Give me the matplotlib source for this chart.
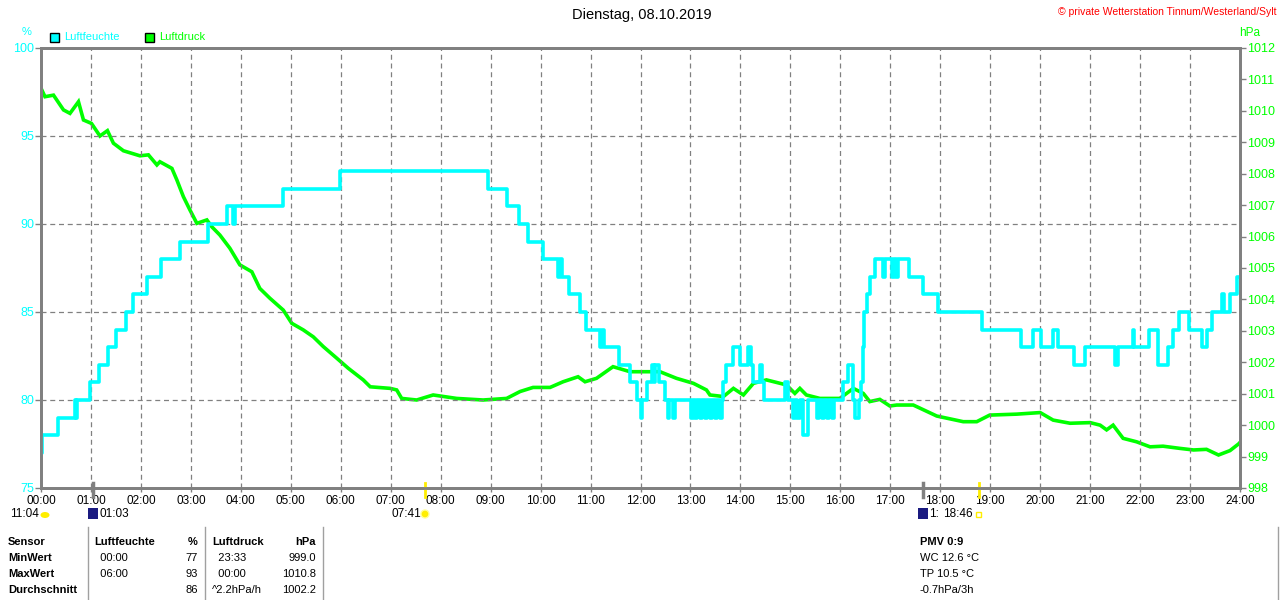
import matplotlib
matplotlib.use("Agg")
import matplotlib.pyplot as plt
from matplotlib.patches import Rectangle, Ellipse
from matplotlib.transforms import blended_transform_factory

plt.rcParams['font.family'] = ['Liberation Sans', 'DejaVu Sans']

CYAN = "#00ffff"
GREEN = "#00ff00"
GRAY = "#808080"

# Luftfeuchte (%), step function: start hour -> value
hum_t = [0.00, 0.03, 0.35, 0.68, 0.70, 0.72, 0.99, 1.16, 1.35, 1.50, 1.70, 1.84, 2.13, 2.40,
         2.78, 3.35, 3.73, 3.84, 3.88, 4.84, 5.98, 8.95, 9.32, 9.57, 9.75, 10.05, 10.35, 10.38,
         10.42, 10.57, 10.79, 10.91, 11.19, 11.22, 11.26, 11.56, 11.78, 11.92, 12.00, 12.04,
         12.14, 12.24, 12.28, 12.30, 12.38, 12.49, 12.56, 12.58, 12.66, 12.69, 13.02, 13.06,
         13.10, 13.14, 13.20, 13.24, 13.30, 13.34, 13.40, 13.44, 13.50, 13.54, 13.60, 13.64,
         13.66, 13.72, 13.86, 13.99, 14.16, 14.21, 14.25, 14.39, 14.44, 14.47, 14.89, 14.96,
         15.06, 15.10, 15.14, 15.19, 15.26, 15.36, 15.53, 15.58, 15.63, 15.68, 15.73, 15.78,
         15.83, 15.88, 16.06, 16.16, 16.26, 16.29, 16.37, 16.42, 16.45, 16.48, 16.53, 16.59,
         16.69, 16.85, 16.90, 17.03, 17.08, 17.12, 17.16, 17.38, 17.65, 17.96, 18.84, 19.61,
         19.85, 20.01, 20.26, 20.36, 20.68, 20.90, 21.50, 21.56, 21.85, 21.88, 22.18, 22.36,
         22.56, 22.65, 22.77, 22.97, 23.23, 23.33, 23.43, 23.63, 23.67, 23.80, 23.93, 24.00]
hum_v = [77, 78, 79, 80, 79, 80, 81, 82, 83, 84, 85, 86, 87, 88,
         89, 90, 91, 90, 91, 92, 93, 92, 91, 90, 89, 88, 87, 88,
         87, 86, 85, 84, 83, 84, 83, 82, 81, 80, 79, 80,
         81, 82, 81, 82, 81, 80, 79, 80, 79, 80, 79, 80,
         79, 80, 79, 80, 79, 80, 79, 80, 79, 80, 79, 80,
         81, 82, 83, 82, 83, 82, 81, 82, 81, 80, 81, 80,
         79, 80, 79, 80, 78, 80, 79, 80, 79, 80, 79, 80,
         79, 80, 81, 82, 80, 79, 80, 81, 83, 85, 86, 87,
         88, 87, 88, 87, 88, 87, 88, 87, 86, 85, 84, 83,
         84, 83, 84, 83, 82, 83, 82, 83, 84, 83, 84, 82,
         83, 84, 85, 84, 83, 84, 85, 86, 85, 86, 87, 87]

# Luftdruck (hPa)
p_t = [0.00, 0.08, 0.25, 0.45, 0.58, 0.75, 0.85, 1.01, 1.18, 1.33, 1.45, 1.65, 1.98, 2.15,
       2.32, 2.38, 2.62, 2.72, 2.85, 2.98, 3.12, 3.32, 3.42, 3.58, 3.78, 3.98, 4.22, 4.38,
       4.58, 4.85, 5.02, 5.25, 5.45, 5.65, 5.92, 6.15, 6.45, 6.59, 6.99, 7.12, 7.22, 7.52,
       7.85, 8.32, 8.85, 9.32, 9.59, 9.85, 10.19, 10.45, 10.75, 10.89, 11.12, 11.45, 11.79,
       12.16, 12.39, 12.72, 13.06, 13.32, 13.39, 13.66, 13.86, 14.06, 14.26, 14.52, 14.92,
       15.09, 15.19, 15.32, 15.59, 15.99, 16.26, 16.46, 16.59, 16.79, 16.99, 17.13, 17.46,
       17.93, 18.46, 18.73, 18.99, 19.53, 20.00, 20.26, 20.60, 21.00, 21.20, 21.33, 21.46,
       21.66, 21.93, 22.20, 22.46, 22.80, 23.07, 23.33, 23.57, 23.80, 23.97, 24.00]
p_v = [1010.72, 1010.45, 1010.50, 1010.03, 1009.92, 1010.29, 1009.71, 1009.60, 1009.20,
       1009.37, 1008.97, 1008.73, 1008.57, 1008.60, 1008.28, 1008.38, 1008.17, 1007.80,
       1007.27, 1006.85, 1006.42, 1006.53, 1006.31, 1006.05, 1005.63, 1005.10, 1004.88,
       1004.35, 1004.04, 1003.66, 1003.24, 1003.03, 1002.81, 1002.50, 1002.13, 1001.81,
       1001.44, 1001.22, 1001.17, 1001.12, 1000.85, 1000.80, 1000.96, 1000.85, 1000.80,
       1000.85, 1001.07, 1001.20, 1001.20, 1001.38, 1001.54, 1001.38, 1001.49, 1001.86,
       1001.70, 1001.70, 1001.70, 1001.49, 1001.33, 1001.12, 1000.96, 1000.91, 1001.17,
       1000.96, 1001.33, 1001.44, 1001.28, 1001.01, 1001.17, 1000.96, 1000.85, 1000.85,
       1001.17, 1001.01, 1000.75, 1000.82, 1000.61, 1000.64, 1000.64, 1000.29, 1000.11,
       1000.11, 1000.32, 1000.35, 1000.40, 1000.16, 1000.06, 1000.08, 1000.00, 999.85,
       1000.00, 999.58, 999.47, 999.31, 999.33, 999.26, 999.21, 999.23, 999.05, 999.19,
       999.40, 999.45]

hours = list(range(25))
hour_labels = ["%02d:00" % h for h in hours]
hum_ticks = [75, 80, 85, 90, 95, 100]
p_ticks = list(range(998, 1013))

# Sonne / Mond
sun_rise, sun_set = 7 + 41 / 60, 18 + 46 / 60
moon_rise, moon_set = 1 + 3 / 60, 17 + 39 / 60

table_rows = [
    ["Sensor", "Luftfeuchte", "%", "Luftdruck", "hPa"],
    ["MinWert", "  00:00", "77", "  23:33", "999.0"],
    ["MaxWert", "  06:00", "93", "  00:00", "1010.8"],
    ["Durchschnitt", "", "86", "^2.2hPa/h", "1002.2"],
]
extra_lines = ["PMV 0:9", "WC 12.6 °C", "TP 10.5 °C", "-0.7hPa/3h"]

W, H = 1280, 600
fig = plt.figure(figsize=(12.8, 6), dpi=100)
fig.patch.set_facecolor("white")


def fx(px):
    return px / W


def fy(py):
    return 1 - py / H


ax = fig.add_axes([fx(41), fy(488), 1199 / W, 440 / H])
ax2 = ax.twinx()
ax.set_zorder(2)
ax.patch.set_visible(False)
ax2.set_zorder(1)

ax2.plot(p_t, p_v, color=GREEN, lw=2.6, solid_joinstyle="miter")
ax.plot(hum_t, hum_v, color=CYAN, lw=2.6, drawstyle="steps-post")

ax.set_xlim(0, 24)
ax.set_ylim(75, 100)
ax2.set_ylim(998, 1012)
ax.set_xticks(hours)
ax.set_xticklabels(hour_labels, fontsize=8.5)
ax.set_yticks(hum_ticks)
ax.set_yticklabels([str(v) for v in hum_ticks], fontsize=9, color=CYAN)
ax2.set_yticks(p_ticks)
ax2.set_yticklabels([str(v) for v in p_ticks], fontsize=9, color=GREEN)

ax.tick_params(axis="x", length=3, color=GRAY, pad=2, width=1)
ax.tick_params(axis="y", length=4, color=GRAY, pad=1, width=1)
ax2.tick_params(axis="y", length=4, color=GRAY, pad=1, width=1)

ax.grid(True, color=GRAY, linestyle=(0, (4, 3)), linewidth=0.9)
for a in (ax, ax2):
    for s in a.spines.values():
        s.set_color(GRAY)
        s.set_linewidth(2)

# markers for sun/moon below the axis
tr = blended_transform_factory(ax.transData, ax.transAxes)
for t in (sun_rise, sun_set):
    ax.plot([t, t], [0.012, -0.02], color="#ffee00", lw=2, transform=tr, clip_on=False)
for t in (moon_rise, moon_set):
    ax.plot([t, t], [0.012, -0.02], color=GRAY, lw=2.5, transform=tr, clip_on=False)

# titles
fig.text(fx(642), fy(15), "Dienstag, 08.10.2019", ha="center", va="center", fontsize=10.5)
fig.text(fx(1276), fy(12), "© private Wetterstation Tinnum/Westerland/Sylt", ha="right",
         va="center", fontsize=7.5, color="red")
fig.text(fx(27), fy(32), "%", ha="center", va="center", fontsize=8, color=CYAN)
fig.text(fx(1250), fy(33), "hPa", ha="center", va="center", fontsize=8.5, color=GREEN)

# legend
fig.patches.append(Rectangle((fx(50), fy(42)), 9 / W, 9 / H, facecolor=CYAN, edgecolor="black",
                             lw=1, transform=fig.transFigure))
fig.text(fx(64), fy(37), "Luftfeuchte", va="center", fontsize=8, color=CYAN)
fig.patches.append(Rectangle((fx(145), fy(42)), 9 / W, 9 / H, facecolor=GREEN, edgecolor="black",
                             lw=1, transform=fig.transFigure))
fig.text(fx(159), fy(37), "Luftdruck", va="center", fontsize=8, color=GREEN)

# sun/moon row
ry = 514
fig.text(fx(10), fy(ry), "11:04", va="center", fontsize=8.5)
fig.patches.append(Ellipse((fx(45), fy(ry + 1)), 9 / W, 6 / H, facecolor="#ffee00",
                           edgecolor="none", transform=fig.transFigure))
fig.patches.append(Rectangle((fx(88), fy(519)), 10 / W, 11 / H, facecolor="#1a1a80",
                             edgecolor="none", transform=fig.transFigure))
fig.text(fx(99), fy(ry), "01:03", va="center", fontsize=8.5)
fig.text(fx(391), fy(ry), "07:41", va="center", fontsize=8.5)
fig.patches.append(Ellipse((fx(425), fy(ry)), 8 / W, 8 / H, facecolor="#ffee00",
                           edgecolor="#ffff99", lw=1, transform=fig.transFigure))
fig.patches.append(Rectangle((fx(918), fy(519)), 10 / W, 11 / H, facecolor="#1a1a80",
                             edgecolor="none", transform=fig.transFigure))
fig.text(fx(929), fy(ry), "1:", va="center", fontsize=8.5)
fig.text(fx(943), fy(ry), "18:46", va="center", fontsize=8.5)
fig.patches.append(Rectangle((fx(976), fy(517)), 5 / W, 5 / H, facecolor="none",
                             edgecolor="#ffee00", lw=1, transform=fig.transFigure))

# table
row_y = [542, 558, 574, 590]
for i, row in enumerate(table_rows):
    head = i == 0
    y = fy(row_y[i])
    fig.text(fx(8), y, row[0], va="center", fontsize=8, fontweight="bold")
    fig.text(fx(94), y, row[1], va="center", fontsize=8, fontweight="bold" if head else "normal")
    fig.text(fx(198), y, row[2], va="center", ha="right", fontsize=8,
             fontweight="bold" if head else "normal")
    fig.text(fx(212), y, row[3], va="center", fontsize=8, fontweight="bold" if head else "normal")
    fig.text(fx(316), y, row[4], va="center", ha="right", fontsize=8,
             fontweight="bold" if head else "normal")
    fig.text(fx(920), y, extra_lines[i], va="center", fontsize=8,
             fontweight="bold" if head else "normal")

for xl in (88, 205, 323, 1278):
    fig.add_artist(plt.Line2D([fx(xl), fx(xl)], [fy(527), fy(600)], color="#a0a0a0", lw=1,
                              transform=fig.transFigure))

fig.savefig("out.png", dpi=100)
